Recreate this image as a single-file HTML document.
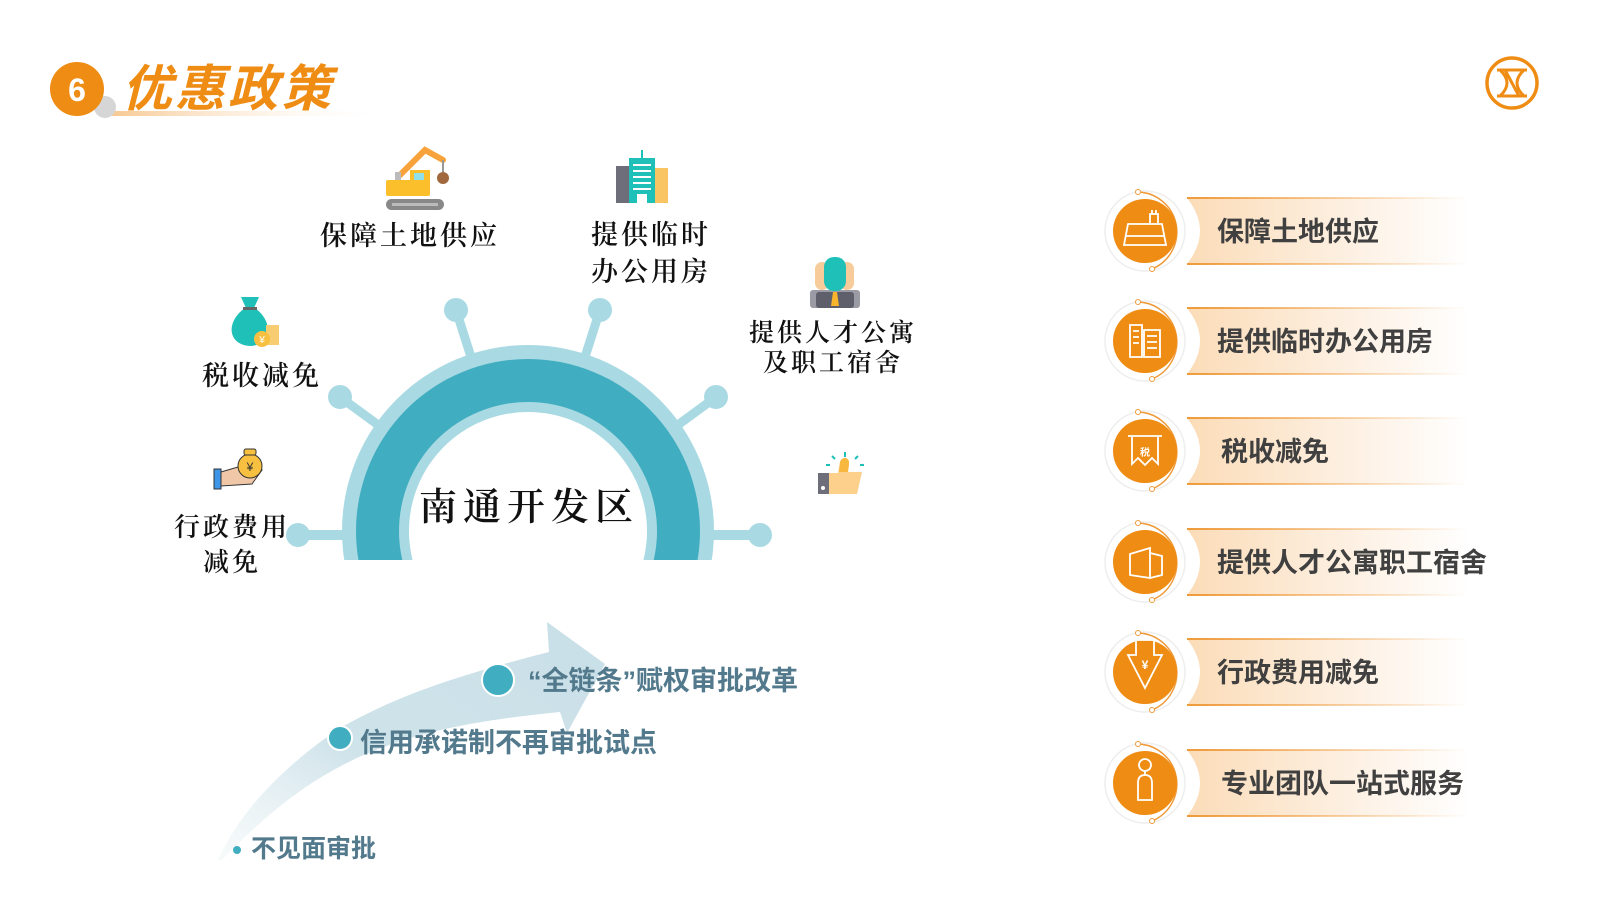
<!DOCTYPE html>
<html><head><meta charset="utf-8">
<style>
html,body{margin:0;padding:0;background:#fff;}
svg{display:block;}
.ser{font-family:"Liberation Serif","Noto Serif CJK SC",serif;font-weight:600;fill:#111;}
.sb{font-family:"Liberation Sans","Noto Sans CJK SC",sans-serif;font-weight:700;}
</style></head>
<body>
<svg width="1600" height="900" viewBox="0 0 1600 900" xmlns="http://www.w3.org/2000/svg">
<defs>
<linearGradient id="ul" x1="0" x2="1"><stop offset="0" stop-color="#f6c48a"/><stop offset="1" stop-color="#fff" stop-opacity="0"/></linearGradient>
<linearGradient id="ban" x1="0" x2="1"><stop offset="0" stop-color="#fbdcb8"/><stop offset="0.6" stop-color="#fdf1e4"/><stop offset="1" stop-color="#fff"/></linearGradient>
<linearGradient id="banl" x1="0" x2="1"><stop offset="0" stop-color="#ef9a3a"/><stop offset="1" stop-color="#ef9a3a" stop-opacity="0"/></linearGradient>
<linearGradient id="arr" x1="0" y1="1" x2="1" y2="0"><stop offset="0" stop-color="#e6f0f3" stop-opacity="0.3"/><stop offset="0.4" stop-color="#cfe3ea"/><stop offset="1" stop-color="#c9dfe7"/></linearGradient>
<clipPath id="hc"><rect x="0" y="0" width="1600" height="560"/></clipPath>
</defs>

<!-- title -->
<rect x="100" y="111" width="290" height="5" fill="url(#ul)"/>
<circle cx="105" cy="107" r="11" fill="#d6d6d6"/>
<circle cx="77" cy="89" r="27" fill="#ef8c14"/>
<text x="77" y="101" text-anchor="middle" class="sb" font-size="32" fill="#fff">6</text>
<text x="122" y="106" class="sb" font-size="50" fill="#ef8c14" font-style="italic" letter-spacing="3">优惠政策</text>

<!-- logo -->
<circle cx="1512" cy="83" r="25" fill="none" stroke="#ef8c14" stroke-width="3.5"/>
<g stroke="#ef8c14" stroke-width="3" fill="none">
<path d="M1497,70 L1527,70 M1497,96 L1527,96 M1500,70 Q1514,83 1500,96 M1524,70 Q1510,83 1524,96 M1505,70 L1519,96"/>
</g>

<!-- helm -->
<g clip-path="url(#hc)">
<g stroke="#a9dae3" stroke-width="9" stroke-linecap="round">
<line x1="528" y1="535" x2="456" y2="310"/>
<line x1="528" y1="535" x2="600" y2="310"/>
<line x1="528" y1="535" x2="340" y2="397"/>
<line x1="528" y1="535" x2="716" y2="397"/>
</g>
<circle cx="528" cy="531" r="186" fill="#a9dae3"/>
<circle cx="528" cy="531" r="172" fill="#41adc0"/>
<circle cx="528" cy="531" r="129" fill="#a9dae3"/>
<circle cx="528" cy="531" r="119" fill="#fff"/>
</g>
<g fill="#a9dae3">
<circle cx="456" cy="310" r="12"/><circle cx="600" cy="310" r="12"/>
<circle cx="340" cy="397" r="12"/><circle cx="716" cy="397" r="12"/>
<circle cx="298" cy="535" r="12"/><circle cx="760" cy="535" r="12"/>
</g>
<rect x="298" y="530" width="50" height="10" fill="#a9dae3"/>
<rect x="708" y="530" width="52" height="10" fill="#a9dae3"/>
<text x="529" y="520" text-anchor="middle" class="ser" font-size="38" letter-spacing="6">南通开发区</text>

<!-- labels -->
<text x="410" y="245" text-anchor="middle" class="ser" font-size="27" letter-spacing="3">保障土地供应</text>
<text x="262" y="385" text-anchor="middle" class="ser" font-size="27" letter-spacing="3">税收减免</text>
<text x="651" y="244" text-anchor="middle" class="ser" font-size="27" letter-spacing="3">提供临时</text>
<text x="651" y="281" text-anchor="middle" class="ser" font-size="27" letter-spacing="3">办公用房</text>
<text x="833" y="341" text-anchor="middle" class="ser" font-size="25" letter-spacing="3">提供人才公寓</text>
<text x="833" y="371" text-anchor="middle" class="ser" font-size="25" letter-spacing="3">及职工宿舍</text>
<text x="232" y="536" text-anchor="middle" class="ser" font-size="26" letter-spacing="3">行政费用</text>
<text x="232" y="571" text-anchor="middle" class="ser" font-size="26" letter-spacing="3">减免</text>

<!-- icons -->
<g>
<path d="M400,175 L425,150 L443,160" stroke="#f7a23a" stroke-width="6" fill="none" stroke-linecap="round"/>
<line x1="443" y1="160" x2="443" y2="172" stroke="#999" stroke-width="2"/>
<circle cx="443" cy="178" r="6" fill="#a0683c"/>
<rect x="395" y="172" width="6" height="8" fill="#bbb"/>
<rect x="386" y="180" width="44" height="16" rx="2" fill="#fbbf2c"/>
<rect x="410" y="170" width="20" height="12" fill="#fbbf2c"/>
<rect x="414" y="173" width="10" height="7" fill="#8fe0e8"/>
<rect x="386" y="199" width="58" height="11" rx="5.5" fill="#888"/>
<rect x="392" y="203" width="46" height="3" fill="#bbb"/>
</g>
<g>
<rect x="616" y="166" width="16" height="37" fill="#6d6e7a"/>
<rect x="653" y="168" width="15" height="35" fill="#f8c562"/>
<rect x="629" y="158" width="26" height="45" fill="#1ec0b8"/>
<rect x="641" y="150" width="2" height="8" fill="#1ec0b8"/>
<g fill="#fff"><rect x="633" y="164" width="18" height="2"/><rect x="633" y="170" width="18" height="2"/><rect x="633" y="176" width="18" height="2"/><rect x="633" y="182" width="18" height="2"/><rect x="633" y="188" width="18" height="2"/><rect x="637" y="194" width="10" height="9"/></g>
</g>
<g>
<rect x="815" y="262" width="14" height="28" rx="7" fill="#f7cc9a"/>
<rect x="840" y="262" width="14" height="28" rx="7" fill="#f7cc9a"/>
<rect x="810" y="290" width="50" height="18" rx="3" fill="#9a9ba4"/>
<rect x="824" y="257" width="22" height="34" rx="10" fill="#1ec0b8"/>
<rect x="816" y="292" width="38" height="16" rx="3" fill="#5e5f6b"/>
<path d="M833,292 L837,292 L839,306 L831,306 Z" fill="#f8b42c"/>
</g>
<g>
<path d="M241,297 L259,297 L254,308 L246,308 Z" fill="#1ec0b8"/>
<path d="M245,308 C225,322 228,345 250,346 C272,345 274,322 255,308 Z" fill="#1ec0b8"/>
<rect x="243" y="307" width="14" height="3" fill="#666"/>
<rect x="266" y="325" width="13" height="20" fill="#f8cc70"/>
<circle cx="262" cy="339" r="8" fill="#f8c040"/>
<text x="262" y="343" text-anchor="middle" font-size="10" fill="#fff" font-family="Liberation Sans,sans-serif">¥</text>
</g>
<g>
<rect x="214" y="469" width="7" height="20" fill="#3d95e8" stroke="#333" stroke-width="1"/>
<path d="M221,472 L238,467 L262,470 L252,484 L221,486 Z" fill="#f0c8a8" stroke="#333" stroke-width="1"/>
<circle cx="250" cy="466" r="12" fill="#f8c040" stroke="#333" stroke-width="1"/>
<rect x="244" y="449" width="12" height="6" rx="2" fill="#f8c040" stroke="#333" stroke-width="1"/>
<text x="250" y="471" text-anchor="middle" font-size="12" fill="#333" font-family="Liberation Sans,sans-serif">¥</text>
</g>
<g>
<rect x="818" y="473" width="11" height="21" fill="#6d6e7a"/>
<circle cx="823" cy="488" r="2" fill="#fff"/>
<path d="M829,473 L838,473 L840,462 C842,456 850,457 849,464 L848,472 L862,472 L857,494 L829,494 Z" fill="#fdd08c"/>
<path d="M840,462 C842,456 850,457 849,464 L848,472 L839,472 Z" fill="#f8b840"/>
<g stroke="#1ec0b8" stroke-width="2"><line x1="845" y1="452" x2="845" y2="457"/><line x1="832" y1="456" x2="835" y2="459"/><line x1="858" y1="456" x2="855" y2="459"/><line x1="826" y1="465" x2="830" y2="465"/><line x1="860" y1="465" x2="864" y2="465"/></g>
</g>

<!-- arrow -->
<path d="M218,860 C245,800 300,755 340,728 C390,700 440,680 549,652 L547,622 L605,664 L567,733 L560,712 C480,720 420,730 359,757 C310,780 270,810 222,860 Z" fill="url(#arr)"/>
<circle cx="498" cy="680" r="16" fill="#41adc0" stroke="#fff" stroke-width="2"/>
<circle cx="340" cy="738" r="12" fill="#41adc0" stroke="#fff" stroke-width="2"/>
<circle cx="237" cy="850" r="4" fill="#41adc0"/>
<text x="528" y="690" class="sb" font-size="27" fill="#52798c">“全链条”赋权审批改革</text>
<text x="360" y="752" class="sb" font-size="27" fill="#52798c">信用承诺制不再审批试点</text>
<text x="251" y="857" class="sb" font-size="25" fill="#52798c">不见面审批</text>

<!-- right list -->
<g transform="translate(0,231)">
<path d="M1187,-33 Q1213,0 1187,33 L1470,33 L1470,-33 Z" fill="url(#ban)"/>
<rect x="1187" y="-34" width="280" height="2" fill="url(#banl)"/><rect x="1187" y="32" width="280" height="2" fill="url(#banl)"/>
<circle cx="1145" cy="0" r="40" fill="none" stroke="#eee" stroke-width="1.5"/>
<path d="M1138,-39 A40,40 0 0 1 1152,38" fill="none" stroke="#ef9a3a" stroke-width="1.5"/>
<circle cx="1138" cy="-39" r="2.5" fill="#fff" stroke="#ef9a3a"/><circle cx="1152" cy="38" r="2.5" fill="#fff" stroke="#ef9a3a"/>
<circle cx="1145" cy="0" r="32" fill="#ef8c14"/>
</g>
<g transform="translate(0,341)">
<path d="M1187,-33 Q1213,0 1187,33 L1470,33 L1470,-33 Z" fill="url(#ban)"/>
<rect x="1187" y="-34" width="280" height="2" fill="url(#banl)"/><rect x="1187" y="32" width="280" height="2" fill="url(#banl)"/>
<circle cx="1145" cy="0" r="40" fill="none" stroke="#eee" stroke-width="1.5"/>
<path d="M1138,-39 A40,40 0 0 1 1152,38" fill="none" stroke="#ef9a3a" stroke-width="1.5"/>
<circle cx="1138" cy="-39" r="2.5" fill="#fff" stroke="#ef9a3a"/><circle cx="1152" cy="38" r="2.5" fill="#fff" stroke="#ef9a3a"/>
<circle cx="1145" cy="0" r="32" fill="#ef8c14"/>
</g>
<g transform="translate(0,451)">
<path d="M1187,-33 Q1213,0 1187,33 L1470,33 L1470,-33 Z" fill="url(#ban)"/>
<rect x="1187" y="-34" width="280" height="2" fill="url(#banl)"/><rect x="1187" y="32" width="280" height="2" fill="url(#banl)"/>
<circle cx="1145" cy="0" r="40" fill="none" stroke="#eee" stroke-width="1.5"/>
<path d="M1138,-39 A40,40 0 0 1 1152,38" fill="none" stroke="#ef9a3a" stroke-width="1.5"/>
<circle cx="1138" cy="-39" r="2.5" fill="#fff" stroke="#ef9a3a"/><circle cx="1152" cy="38" r="2.5" fill="#fff" stroke="#ef9a3a"/>
<circle cx="1145" cy="0" r="32" fill="#ef8c14"/>
</g>
<g transform="translate(0,562)">
<path d="M1187,-33 Q1213,0 1187,33 L1470,33 L1470,-33 Z" fill="url(#ban)"/>
<rect x="1187" y="-34" width="280" height="2" fill="url(#banl)"/><rect x="1187" y="32" width="280" height="2" fill="url(#banl)"/>
<circle cx="1145" cy="0" r="40" fill="none" stroke="#eee" stroke-width="1.5"/>
<path d="M1138,-39 A40,40 0 0 1 1152,38" fill="none" stroke="#ef9a3a" stroke-width="1.5"/>
<circle cx="1138" cy="-39" r="2.5" fill="#fff" stroke="#ef9a3a"/><circle cx="1152" cy="38" r="2.5" fill="#fff" stroke="#ef9a3a"/>
<circle cx="1145" cy="0" r="32" fill="#ef8c14"/>
</g>
<g transform="translate(0,672)">
<path d="M1187,-33 Q1213,0 1187,33 L1470,33 L1470,-33 Z" fill="url(#ban)"/>
<rect x="1187" y="-34" width="280" height="2" fill="url(#banl)"/><rect x="1187" y="32" width="280" height="2" fill="url(#banl)"/>
<circle cx="1145" cy="0" r="40" fill="none" stroke="#eee" stroke-width="1.5"/>
<path d="M1138,-39 A40,40 0 0 1 1152,38" fill="none" stroke="#ef9a3a" stroke-width="1.5"/>
<circle cx="1138" cy="-39" r="2.5" fill="#fff" stroke="#ef9a3a"/><circle cx="1152" cy="38" r="2.5" fill="#fff" stroke="#ef9a3a"/>
<circle cx="1145" cy="0" r="32" fill="#ef8c14"/>
</g>
<g transform="translate(0,783)">
<path d="M1187,-33 Q1213,0 1187,33 L1470,33 L1470,-33 Z" fill="url(#ban)"/>
<rect x="1187" y="-34" width="280" height="2" fill="url(#banl)"/><rect x="1187" y="32" width="280" height="2" fill="url(#banl)"/>
<circle cx="1145" cy="0" r="40" fill="none" stroke="#eee" stroke-width="1.5"/>
<path d="M1138,-39 A40,40 0 0 1 1152,38" fill="none" stroke="#ef9a3a" stroke-width="1.5"/>
<circle cx="1138" cy="-39" r="2.5" fill="#fff" stroke="#ef9a3a"/><circle cx="1152" cy="38" r="2.5" fill="#fff" stroke="#ef9a3a"/>
<circle cx="1145" cy="0" r="32" fill="#ef8c14"/>
</g>

<!-- circle icons -->
<g fill="none" stroke="#fff" stroke-width="1.8">
<path d="M1128,224 L1162,224 L1166,245 L1124,245 Z M1126,236 L1164,236"/>
<path d="M1150,224 L1150,214 L1158,214 L1158,224 M1152,210 L1152,214 M1156,210 L1156,214"/>
<path d="M1130,325 L1142,325 L1142,357 L1130,357 Z M1144,330 L1160,330 L1160,357 L1144,357 Z M1133,331 L1139,331 M1133,337 L1139,337 M1133,343 L1139,343 M1147,336 L1157,336 M1147,342 L1157,342 M1147,348 L1157,348"/>
<path d="M1128,436 L1162,436 M1132,436 L1132,464 L1138,458 L1145,465 L1152,458 L1158,464 L1158,436"/>
<path d="M1130,554 L1150,548 L1150,578 L1130,575 Z M1150,553 L1162,556 L1162,575 L1150,578"/>
<path d="M1136,655 L1136,640 L1154,640 L1154,655 L1162,655 L1145,688 L1128,655 Z"/>
<path d="M1138,783 L1138,800 L1152,800 L1152,783 Q1152,775 1145,775 Q1138,775 1138,783 M1145,775 L1145,770"/>
<circle cx="1145" cy="765" r="6"/>
</g>
<text x="1145" y="456" text-anchor="middle" font-size="10" fill="#fff" class="sb">税</text>
<text x="1145" y="669" text-anchor="middle" font-size="12" fill="#fff" class="sb">¥</text>
<g class="sb" font-size="27" fill="#404040">
<text x="1217" y="241">保障土地供应</text>
<text x="1217" y="351">提供临时办公用房</text>
<text x="1221" y="461">税收减免</text>
<text x="1217" y="572">提供人才公寓职工宿舍</text>
<text x="1217" y="682">行政费用减免</text>
<text x="1221" y="793">专业团队一站式服务</text>
</g>
</svg>
</body></html>
